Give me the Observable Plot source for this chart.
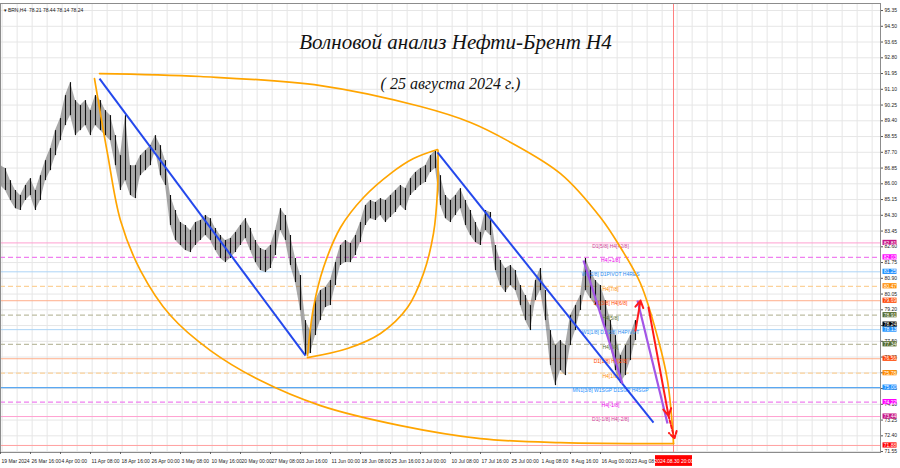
<!DOCTYPE html>
<html><head><meta charset="utf-8">
<script src="https://cdn.jsdelivr.net/npm/d3@7"></script>
<script src="https://cdn.jsdelivr.net/npm/@observablehq/plot@0.6"></script>
<style>body{margin:0;background:#fff}</style>
</head><body><div id="chart"></div>
<script>
// ---- candles (one slot ≈ 4 H4 bars), prices ----
const highs = [86.98,86.82,86.17,85.64,85.37,85.91,86.28,85.64,86.44,87.25,
87.90,88.87,89.52,90.76,91.46,90.49,90.22,90.49,89.95,90.76,
90.49,89.95,89.68,88.60,87.52,89.68,86.98,86.98,87.52,87.79,
88.06,88.60,88.06,87.25,85.37,84.56,83.91,83.75,83.48,83.91,
84.02,84.29,84.12,83.59,83.21,82.94,83.05,83.37,83.75,84.12,
83.59,82.94,82.51,82.40,82.67,83.48,84.66,84.29,83.21,81.97,
81.05,78.62,78.08,79.70,80.24,80.40,80.78,81.75,82.67,82.94,
82.78,83.21,83.91,84.83,85.10,84.99,85.20,85.10,85.37,85.64,
85.91,85.74,86.28,86.61,86.82,86.98,87.52,87.79,86.44,85.37,
85.10,85.37,85.74,85.10,84.56,83.91,83.37,84.56,84.45,82.67,
81.86,81.43,81.59,81.32,80.51,79.97,79.43,80.78,81.43,80.24,
78.08,77.27,77.54,77.27,78.89,79.43,79.97,81.97,81.32,80.78,
80.51,79.70,78.62,77.81,76.73,77.27,77.81,78.62];
const lows = [85.91,85.64,85.10,84.66,84.56,85.10,85.37,84.56,85.10,86.17,
86.71,87.52,88.33,89.14,89.68,88.60,88.87,89.14,88.60,89.14,
88.87,88.60,88.33,86.98,85.64,86.17,85.37,85.20,86.44,86.71,
86.98,87.79,86.44,85.91,83.75,82.94,82.67,82.40,82.29,82.67,
82.94,83.21,82.94,82.40,81.97,81.75,81.97,82.29,82.67,83.05,
82.40,81.75,81.32,81.21,81.43,82.13,83.48,82.94,81.59,80.67,
79.16,76.73,76.84,77.81,78.62,79.32,79.43,80.51,81.59,81.75,
81.75,82.13,82.83,83.75,84.12,84.02,84.29,83.91,84.18,84.45,
84.83,84.56,85.37,85.64,85.91,86.07,86.61,86.82,84.83,84.12,
83.91,84.29,84.66,83.75,83.21,82.83,82.67,83.48,83.21,81.32,
80.51,80.13,80.51,80.24,79.43,78.62,78.08,79.70,80.24,78.62,
76.19,75.11,75.92,75.65,77.27,78.08,79.16,80.24,79.81,79.43,
79.16,78.08,77.27,75.92,75.22,75.65,76.46,77.54];
const lastPrice = 78.24;
const infoText = "▾ BRN,H4  78.21 78.44 78.14 78.24";

// ---- axes ----
const yTicks = [95.35,94.50,93.65,92.80,91.95,91.10,90.25,89.40,88.55,87.70,86.85,86.00,85.15,84.30,83.45,82.60,81.75,80.90,80.05,79.20,78.35,77.50,76.65,75.80,74.95,74.10,73.25,72.40,71.55];
const xTickSlots = [0,6,12,18,24,30,36,42,48,54,60,66,72,78,84,90,96,102,108,114,120,126];
const xTickLabels = ["19 Mar 2024","26 Mar 16:00","4 Apr 00:00","11 Apr 08:00","18 Apr 16:00","26 Apr 00:00","3 May 08:00","10 May 16:00","20 May 00:00","27 May 08:00","3 Jun 16:00","11 Jun 00:00","18 Jun 08:00","25 Jun 16:00","3 Jul 00:00","10 Jul 08:00","17 Jul 16:00","25 Jul 00:00","1 Aug 08:00","8 Aug 16:00","16 Aug 00:00","23 Aug 08:00"];
const timeLineSlot = 134.6;
const timeLineLabel = "2024.08.30 20:00";
const targetPrice = 71.88;

// ---- Murrey / pivot levels ----
const levelPrices = [82.81,82.03,81.25,80.47,79.69,78.91,78.13,77.34,76.56,75.78,75.00,74.22,73.44];
const levelNames = ["D1[5/8] H4[+2/8]","H4[+1/8]","W1[2/8] D1PIVOT H4RES","H4[7/8]","D1[3/8] H4[6/8]","H4[5/8]","W1[1/8] D1[2/8] H4PIVOT","H4[3/8]","D1[1/8] H4[2/8]","H4[1/8]","MN1[3/8] W1SGP D1SGP H4SGP","H4[-1/8]","D1[-1/8] H4[-2/8]"];
const levelKinds = ["pink","magenta","blue","orange","red","olive","blue","olive","red","orange","sgp","magenta","pink"];

// ---- wave annotations (slot, price) ----
const outerArcSlot  = [19.8,40,64,84,94,101.4,112,120,124,128,131.6,133.4,134.4,134.6];
const outerArcPrice = [91.95,91.79,91.30,90.17,89.31,88.33,86.55,84.18,82.56,80.62,77.54,75.38,72.85,71.98];
const lowerArcSlot  = [18.8,21.4,24,28,34,42,52,64,80,96,112,134.6];
const lowerArcPrice = [91.68,87.63,84.02,81.32,78.89,77.00,75.38,74.03,72.95,72.25,72.03,71.98];
const lensUpSlot  = [61.4,62.6,64.6,68,72.6,78,82.6,87.4];
const lensUpPrice = [76.73,79.32,81.48,83.64,85.26,86.55,87.36,87.85];
const lensDnSlot  = [61.4,69.4,76,81.4,84.6,86.6,87.4,87.5];
const lensDnPrice = [76.62,77.11,77.92,79.32,81.16,83.32,85.64,87.80];
const blueX1 = [19.8,87.4], blueY1 = [91.68,87.69], blueX2 = [61,130.6], blueY2 = [76.73,73.11];
const purpleX1 = [116.6,127.4], purpleY1 = [81.86,79.70], purpleX2 = [124.4,133.4], purpleY2 = [75.22,73.06];
const redX1 = [127,129.6], redY1 = [78.08,79.32], redX2 = [128,133.6], redY2 = [79.70,73.49];
const redDashX1 = [133.6], redDashY1 = [73.49], redDashX2 = [134.8], redDashY2 = [72.25];

const title = "Волновой анализ Нефти-Брент H4";
const subtitle = "( 25 августа 2024 г.)";

// ---- styles ----
const kindStyle = {
  pink:    {line:"#ff9fd0", dash:false, text:"#d23c98", box:"#c71585", w:1},
  magenta: {line:"#f080f0", dash:true,  text:"#ee00ee", box:"#ff00ff", w:1},
  blue:    {line:"#acd4f6", dash:false, text:"#2a8cf0", box:"#1e90ff", w:1},
  orange:  {line:"#fcd29a", dash:true,  text:"#ff8c00", box:"#ff8c00", w:1},
  red:     {line:"#ffae8a", dash:false, text:"#ff4500", box:"#ff4500", w:1},
  olive:   {line:"#bdbda3", dash:true,  text:"#556b2f", box:"#556b2f", w:1},
  sgp:     {line:"#5aa8f2", dash:false, text:"#1e90ff", box:"#1e90ff", w:1.3}
};
const xMax = 176;
const candles = highs.map((h, i) => ({k: i, hi: h, lo: lows[i]}));
const pts = (xs, ys) => xs.map((x, i) => ({x, y: ys[i]}));
const idx = d3.range(levelPrices.length);
const st = i => kindStyle[levelKinds[i]];
const arcStyle = {stroke: "#ffa500", strokeWidth: 1.7, curve: "catmull-rom"};
const small = "Liberation Sans, Arial, sans-serif";
const boxX1 = xMax + 0.5, boxX2 = xMax + 3.3, boxXm = xMax + 1.9, boxH = 0.14;

const chart = Plot.plot({
  width: 900, height: 468,
  marginLeft: 0, marginRight: 20, marginTop: 3, marginBottom: 16,
  x: {domain: [0, xMax], axis: null},
  y: {domain: [71.50, 95.73], axis: null},
  style: {fontFamily: small, background: "#fff", overflow: "visible"},
  marks: [
    Plot.gridX(d3.range(0.33, xMax, 3), {stroke: "#e6e6e6", strokeOpacity: 1}),
    Plot.gridY(yTicks, {stroke: "#e6e6e6", strokeOpacity: 1}),
    Plot.ruleY(idx.filter(i => !st(i).dash), {y: i => levelPrices[i], stroke: i => st(i).line, strokeWidth: i => st(i).w}),
    Plot.ruleY(idx.filter(i => st(i).dash), {y: i => levelPrices[i], stroke: i => st(i).line, strokeDasharray: "5,3", strokeWidth: 1.2}),
    Plot.ruleY([targetPrice], {stroke: "#ffa0a0"}),
    Plot.ruleX([timeLineSlot], {stroke: "#ff8080"}),
    Plot.areaY(candles, {x: "k", y1: "lo", y2: "hi", fill: "#555", fillOpacity: 0.5}),
    Plot.ruleX(candles, {x: "k", y1: "lo", y2: "hi", stroke: "#111", strokeWidth: 1.1}),
    Plot.text(idx, {x: 122, y: i => levelPrices[i], text: i => levelNames[i], fill: i => st(i).text, dy: 3, fontSize: 5}),
    Plot.line(pts(outerArcSlot, outerArcPrice), {x: "x", y: "y", ...arcStyle}),
    Plot.line(pts(lowerArcSlot, lowerArcPrice), {x: "x", y: "y", ...arcStyle}),
    Plot.line(pts(lensUpSlot, lensUpPrice), {x: "x", y: "y", ...arcStyle}),
    Plot.line(pts(lensDnSlot, lensDnPrice), {x: "x", y: "y", ...arcStyle}),
    Plot.link([0,1], {x1: i => blueX1[i], y1: i => blueY1[i], x2: i => blueX2[i], y2: i => blueY2[i], stroke: "#2448ec", strokeWidth: 2}),
    Plot.link([0,1], {x1: i => purpleX1[i], y1: i => purpleY1[i], x2: i => purpleX2[i], y2: i => purpleY2[i], stroke: "#a355e6", strokeWidth: 2.2}),
    Plot.arrow([0,1], {x1: i => redX1[i], y1: i => redY1[i], x2: i => redX2[i], y2: i => redY2[i], stroke: "#ff1a1a", strokeWidth: 2, headLength: 6}),
    Plot.arrow([0], {x1: i => redDashX1[i], y1: i => redDashY1[i], x2: i => redDashX2[i], y2: i => redDashY2[i], stroke: "#ff1a1a", strokeWidth: 2, strokeDasharray: "3,2", headLength: 6}),
    Plot.frame({stroke: "#8c8c8c"}),
    Plot.axisY(yTicks, {anchor: "right", tickFormat: d => d.toFixed(2), fontSize: 5, tickSize: 2, tickPadding: 2, stroke: "#555", fill: "#222"}),
    Plot.text(d3.range(xTickLabels.length), {x: i => xTickSlots[i], text: i => xTickLabels[i], frameAnchor: "bottom", dy: 10, dx: 1, textAnchor: "start", fontSize: 5, fill: "#222"}),
    Plot.ruleX(xTickSlots, {x: d => d, y1: 71.5, y2: 71.40, stroke: "#555"}),
    // right-side price boxes
    Plot.rect([lastPrice], {x1: boxX1, x2: boxX2, y1: d => d - boxH, y2: d => d + boxH, fill: "#000", dy: -3}),
    Plot.text([lastPrice], {x: boxXm, y: d => d, text: d => d.toFixed(2), fill: "#fff", fontSize: 5, dy: -3}),
    Plot.rect(idx, {x1: boxX1, x2: boxX2, y1: i => levelPrices[i] - boxH, y2: i => levelPrices[i] + boxH, fill: i => st(i).box}),
    Plot.text(idx, {x: boxXm, y: i => levelPrices[i], text: i => levelPrices[i].toFixed(2), fill: "#fff", fontSize: 5}),
    Plot.rect([targetPrice], {x1: boxX1, x2: boxX2, y1: d => d - boxH, y2: d => d + boxH, fill: "#ff0000"}),
    Plot.text([targetPrice], {x: boxXm, y: d => d, text: d => d.toFixed(2), fill: "#fff", fontSize: 5}),
    // time label box
    Plot.rect([timeLineSlot], {x1: d => d - 3.6, x2: d => d + 3.8, y1: 70.75, y2: 71.33, fill: "#ff0000"}),
    Plot.text([timeLineSlot], {x: d => d + 0.1, frameAnchor: "bottom", dy: 10, text: [timeLineLabel], fill: "#fff", fontSize: 5}),
    // header texts
    Plot.text([infoText], {frameAnchor: "top-left", dx: 3, dy: 5, fontSize: 5, fill: "#222", textAnchor: "start"}),
    Plot.text([title], {x: 91, frameAnchor: "top", dy: 31, fontSize: 21, fontStyle: "italic", fontFamily: "Liberation Serif, DejaVu Serif, serif", fill: "#111"}),
    Plot.text([subtitle], {x: 90, frameAnchor: "top", dy: 74, fontSize: 16, fontStyle: "italic", fontFamily: "Liberation Serif, DejaVu Serif, serif", fill: "#111"})
  ]
});
document.getElementById("chart").appendChild(chart);
</script>
</body></html>
